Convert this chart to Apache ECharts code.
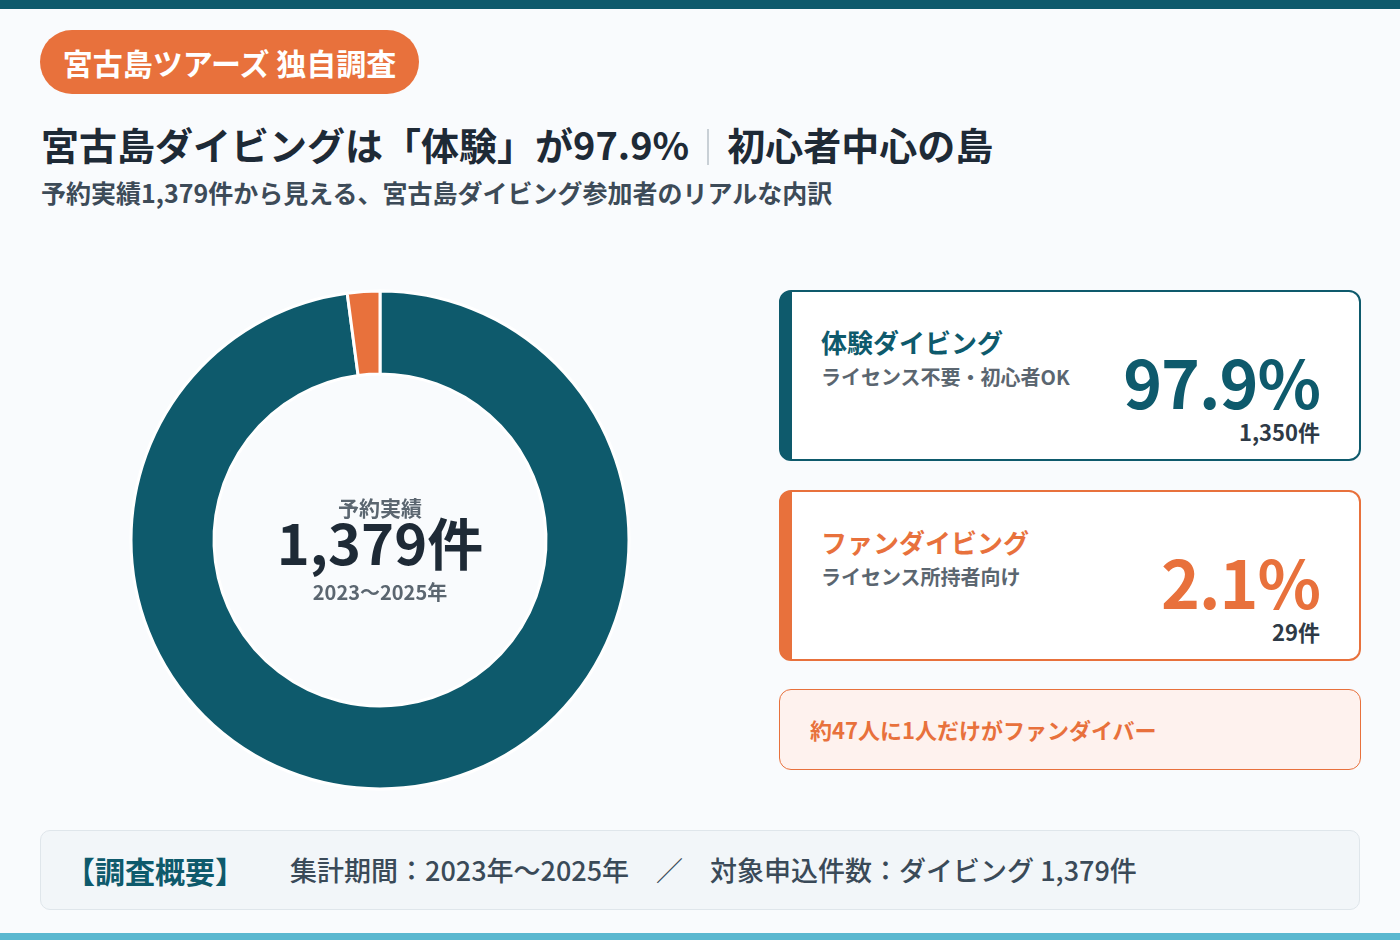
<!DOCTYPE html>
<html lang="ja">
<head>
<meta charset="utf-8">
<script src="https://cdn.jsdelivr.net/npm/echarts@6/dist/echarts.min.js"></script>
<style>
  html, body { margin: 0; padding: 0; }
  body {
    width: 1400px; height: 940px; position: relative; overflow: hidden;
    background: #f9fbfd;
    font-family: "Noto Sans CJK JP", "Noto Sans", sans-serif;
  }
  .topbar { position: absolute; left: 0; top: 0; width: 1400px; height: 9px; background: #0e5a6c; }
  .botbar { position: absolute; left: 0; top: 933px; width: 1400px; height: 7px; background: #5bb8d0; }
  .badge {
    position: absolute; left: 40px; top: 30px; width: 379px; height: 64px;
    border-radius: 32px; background: #e8713c; color: #fff;
    font-size: 30px; font-weight: 700; line-height: 64px; text-align: center;
  }
  .title {
    position: absolute; left: 41px; top: 118px; font-size: 38px; font-weight: 700;
    color: #1e2a36; white-space: nowrap; line-height: 52px;
  }
  .title .sep { display: inline-block; width: 2px; height: 36px; background: #c9d0d6; vertical-align: -5px; margin: 0 18px 0 18px; }
  .subtitle {
    position: absolute; left: 41px; top: 175px; font-size: 25px; font-weight: 700;
    color: #3d4b58; white-space: nowrap; line-height: 34px;
  }
  #chart { position: absolute; left: 100px; top: 260px; width: 560px; height: 560px; }
  .card {
    position: absolute; left: 779px; width: 582px; height: 171px; box-sizing: border-box;
    background: #fff; border: 2px solid; border-left-width: 13px; border-radius: 12px;
  }
  .card .name { position: absolute; left: 29px; top: 32px; font-size: 26px; font-weight: 700; line-height: 36px; }
  .card .desc { position: absolute; left: 29px; top: 71px; font-size: 20px; font-weight: 700; color: #5b6670; line-height: 28px; }
  .card .pct { position: absolute; right: 39px; top: 50px; font-size: 66px; font-weight: 700; line-height: 76px; letter-spacing: -1px; }
  .card .cnt { position: absolute; right: 39px; top: 125px; font-size: 22px; font-weight: 700; color: #2e3a46; line-height: 28px; }
  .note {
    position: absolute; left: 779px; top: 689px; width: 582px; height: 81px; box-sizing: border-box;
    background: #fef2ee; border: 1.5px solid #e8713c; border-radius: 12px;
  }
  .note span { position: absolute; left: 30px; top: 24px; font-size: 22px; font-weight: 700; color: #e8713c; line-height: 30px; }
  .footer {
    position: absolute; left: 40px; top: 830px; width: 1320px; height: 80px; box-sizing: border-box;
    background: #f2f6f9; border: 1.5px solid #dfe6eb; border-radius: 10px;
  }
  .footer .head { position: absolute; left: 24px; top: 19px; font-size: 30px; font-weight: 700; color: #0e5a6c; line-height: 40px; }
  .footer .body { position: absolute; left: 249px; top: 20px; font-size: 27px; font-weight: 500; color: #3a4a58; line-height: 38px; white-space: pre; }
</style>
</head>
<body>
<div class="topbar"></div>
<div class="badge">宮古島ツアーズ 独自調査</div>
<div class="title">宮古島ダイビングは「体験」が97.9%<span class="sep"></span>初心者中心の島</div>
<div class="subtitle">予約実績1,379件から見える、宮古島ダイビング参加者のリアルな内訳</div>
<div id="chart"></div>
<div id="cards"></div>
<div class="note"><span>約47人に1人だけがファンダイバー</span></div>
<div class="footer">
  <div class="head">【調査概要】</div>
  <div class="body">集計期間：2023年〜2025年　／　対象申込件数：ダイビング 1,379件</div>
</div>
<div class="botbar"></div>
<script>
const categories = ['体験ダイビング', 'ファンダイビング'];
const descriptions = ['ライセンス不要・初心者OK', 'ライセンス所持者向け'];
const counts = [1350, 29];
const percents = ['97.9%', '2.1%'];
const colors = ['#0e5a6c', '#e8713c'];
const total = 1379;
const centerLabel = '予約実績';
const periodLabel = '2023〜2025年';

// 右側のカード
const cardTops = [290, 490];
const cardsEl = document.getElementById('cards');
categories.forEach((name, i) => {
  const c = document.createElement('div');
  c.className = 'card';
  c.style.top = cardTops[i] + 'px';
  c.style.borderColor = colors[i];
  c.innerHTML =
    `<div class="name" style="color:${colors[i]}">${name}</div>` +
    `<div class="desc">${descriptions[i]}</div>` +
    `<div class="pct" style="color:${colors[i]}">${percents[i]}</div>` +
    `<div class="cnt">${counts[i].toLocaleString('en-US')}件</div>`;
  cardsEl.appendChild(c);
});

const chart = echarts.init(document.getElementById('chart'), null, { renderer: 'canvas' });
chart.setOption({
  animation: false,
  title: {
    text: `{a|${centerLabel}}\n{b|${total.toLocaleString('en-US')}件}\n{c|${periodLabel}}`,
    left: 'center', top: 228,
    textStyle: {
      rich: {
        a: { fontSize: 21, fontWeight: 700, color: '#5b6670', lineHeight: 30, fontFamily: 'Noto Sans CJK JP' },
        b: { fontSize: 56, fontWeight: 700, color: '#1e2a36', lineHeight: 42, fontFamily: 'Noto Sans CJK JP' },
        c: { fontSize: 20, fontWeight: 700, color: '#5b6670', lineHeight: 54, fontFamily: 'Noto Sans CJK JP' }
      }
    }
  },
  series: [{
    type: 'pie',
    center: [280, 280],
    radius: [166, 249],
    startAngle: 90,
    clockwise: true,
    label: { show: false },
    labelLine: { show: false },
    emphasis: { disabled: true },
    itemStyle: { borderColor: '#ffffff', borderWidth: 3 },
    data: categories.map((n, i) => ({ name: n, value: counts[i], itemStyle: { color: colors[i] } }))
  }]
});
</script>
</body>
</html>
